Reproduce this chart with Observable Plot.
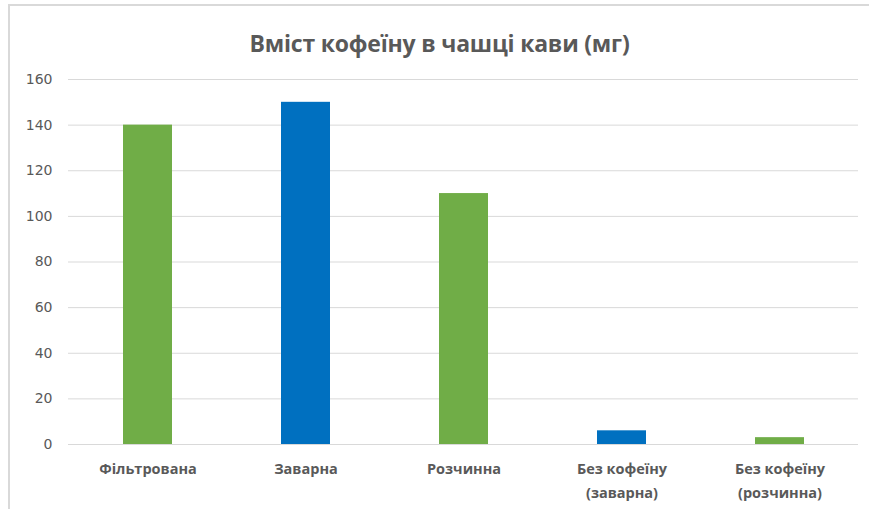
<!DOCTYPE html>
<html>
<head>
<meta charset="utf-8">
<script src="https://cdn.jsdelivr.net/npm/d3@7"></script>
<script src="https://cdn.jsdelivr.net/npm/@observablehq/plot@0.6"></script>
<style>
  html, body { margin: 0; padding: 0; background: #fff; }
  #wrap { position: relative; width: 869px; height: 509px; overflow: hidden; font-family: "Open Sans", "Noto Sans", sans-serif; }
  #frame { position: absolute; left: 8px; top: 4px; right: -5px; bottom: -5px; border-left: 2px solid #d9d9d9; border-top: 2px solid #d9d9d9; }
  #title { position: absolute; top: 27px; left: 10px; right: 0; text-align: center; font-size: 23px; font-weight: bold; color: #595959; letter-spacing: -0.2px; }
  #chart { position: absolute; left: 0; top: 0; }
  #chart g[aria-label="y-axis tick label"] { font-family: "DejaVu Sans", sans-serif !important; font-size: 14px !important; }
  #chart g[aria-label="y-axis tick label"] text { font-family: "DejaVu Sans", sans-serif !important; font-size: 14px !important; }
</style>
</head>
<body>
<div id="wrap">
  <div id="frame"></div>
  <div id="title">Вміст кофеїну в чашці кави (мг)</div>
  <div id="chart"></div>
</div>
<script>
const categories = ["Фільтрована", "Заварна", "Розчинна", "Без кофеїну\n(заварна)", "Без кофеїну\n(розчинна)"];
const values = [140, 150, 110, 6, 3];
const colors = ["#70AD47", "#0070C0", "#70AD47", "#0070C0", "#70AD47"];
const yTicks = [0, 20, 40, 60, 80, 100, 120, 140, 160];

const data = categories.map((c, i) => ({category: c, value: values[i], color: colors[i]}));

const plot = Plot.plot({
  width: 869,
  height: 509,
  marginTop: 79,
  marginBottom: 65,
  marginLeft: 68,
  marginRight: 11,
  style: {fontFamily: "'Open Sans', 'Noto Sans', sans-serif", fontSize: "14px", color: "#595959", background: "transparent"},
  x: {domain: categories, paddingInner: 0.69, paddingOuter: 0.345, label: null},
  y: {domain: [0, 160], label: null},
  marks: [
    Plot.ruleY(yTicks, {stroke: "#d9d9d9", strokeWidth: 1}),
    Plot.barY(data, {x: "category", y: "value", fill: "color"}),
    Plot.axisY({ticks: yTicks, tickSize: 0, tickPadding: 16, fontSize: 14, label: null, fill: "#595959"}),
    Plot.axisX({tickSize: 0, tickPadding: 13, fontSize: 14.5, fontWeight: "bold", lineHeight: 1.65, label: null, fill: "#595959"})
  ]
});
document.getElementById("chart").appendChild(plot);
</script>
</body>
</html>
